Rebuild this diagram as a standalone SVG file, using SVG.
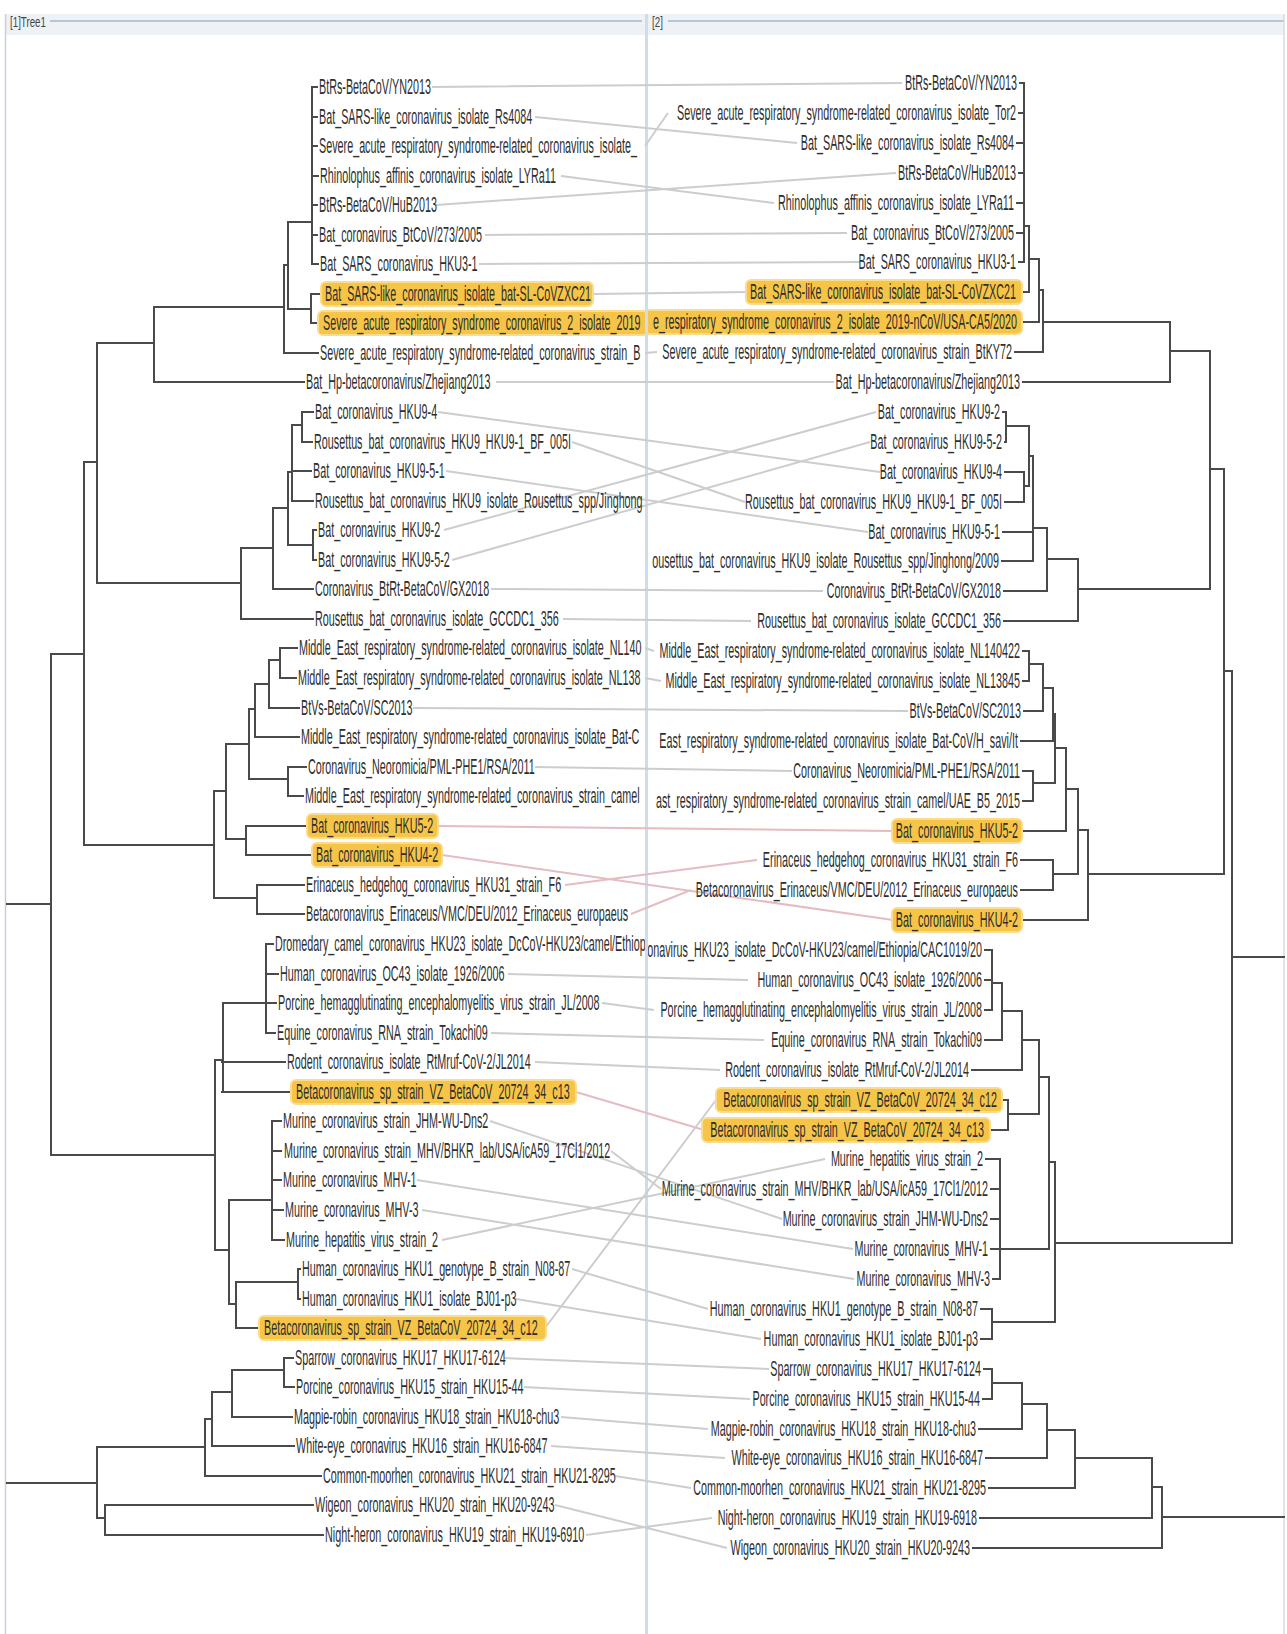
<svg xmlns="http://www.w3.org/2000/svg" width="1287" height="1634" viewBox="0 0 1287 1634">
<defs>
<style>
.t{font-family:"Liberation Sans",Arial,sans-serif;font-size:22px;fill:#2f2f2f}
.e{text-anchor:end}
.hd{font-family:"Liberation Sans",Arial,sans-serif;font-size:15px;fill:#444}
.tree{fill:none;stroke:#4a4a4a;stroke-width:2;stroke-linecap:square}
.lk{fill:none;stroke:#cdcdcd;stroke-width:2}
.pk{fill:none;stroke:#e4bcc2;stroke-width:2}
.hl{fill:#f6c548;stroke:#fadc90;stroke-width:2}
</style>
<clipPath id="cl"><rect x="6" y="34" width="639" height="1600"/></clipPath>
<clipPath id="cr"><rect x="648" y="34" width="636" height="1600"/></clipPath>
</defs>
<rect x="0" y="0" width="1287" height="1634" fill="#ffffff"/>
<g id="frame">
<rect x="5" y="14" width="1279" height="21" fill="#eef2f6"/>
<line x1="50" y1="21" x2="642" y2="21" stroke="#b7c6d5" stroke-width="2"/>
<line x1="668" y1="21" x2="1284" y2="21" stroke="#b7c6d5" stroke-width="2"/>
<line x1="5.5" y1="14" x2="5.5" y2="1634" stroke="#c6d0da" stroke-width="1.5"/>
<line x1="1284" y1="14" x2="1284" y2="1634" stroke="#d3dbe3" stroke-width="1.5"/>
<rect x="645" y="14" width="3" height="1620" fill="#cfdcea"/>
<text class="hd" transform="translate(10,27) scale(0.65,1)">[1]Tree1</text>
<text class="hd" transform="translate(652,27) scale(0.65,1)">[2]</text>
</g>
<g id="connectors">
<g id="links">
<path class="lk" d="M432 87L902 83M535 117L797 143M645 146L668 113M561 176L774 203M436 205L896 173M485 235L847 233M479 264L860 262M594 294L747 292M645 353L657 352M496 382L834 382"/>
<path class="lk" d="M438 412L880 472M572 442L745 502M446 471L868 532M444 530L876 412M452 560L870 442M491 589L823 591M563 619L751 621M645 648L654 651M645 678L661 681M413 708L908 711M535 767L792 771"/>
<path class="pk" d="M438 826L893 831M442 855L893 920M565 885L757 860M631 914L691 890M576 1092L704 1130"/>
<path class="lk" d="M508 974L748 980M602 1003L654 1010M491 1033L764 1040M535 1062L720 1070M490 1121L782 1219M611 1151L661 1189M417 1180L853 1249M422 1210L854 1279M442 1240L825 1159M572 1269L708 1309M516 1299L761 1339M545 1328L716 1100"/>
<path class="lk" d="M504 1358L769 1369M524 1387L750 1399M561 1417L708 1429M551 1446L725 1458M615 1476L691 1488M555 1505L727 1548M586 1535L712 1518"/>
</g>
<g id="tree-left">
<path class="tree" d="M312 87V264M312 87H317M312 117H317M312 146H317M312 176H318M312 205H317M312 235H317M312 264H318M288 222H312M311 294V323M311 294H319M311 323H317M288 309H311M288 222V309M284 265H288M284 265V353M284 353H318M154 307H284M154 307V382M154 382H304M97 343H154"/>
<path class="tree" d="M302 412V442M302 412H313M302 442H312M292 425H302M292 425V501M292 471H311M292 501H313M288 472H292M313 530V560M313 530H316M313 560H316M288 545H313M288 472V545M273 508H288M273 508V589M273 589H313M241 548H273M241 548V619M241 619H313M97 583H241M97 343V583M84 462H97"/>
<path class="tree" d="M280 648V678M280 648H297M280 678H296M269 660H280M269 660V708M269 708H299M255 684H269M255 684V737M255 737H299M249 709H255M288 767V796M288 767H306M288 796H303M249 779H288M249 709V779M226 744H249M246 826V855M246 826H306M246 855H311M226 839H246M226 744V839M214 791H226M257 885V914M257 885H304M257 914H304M214 898H257M214 791V898M84 845H214M84 462V845M51 654H84"/>
<path class="tree" d="M266 944V1033M266 944H273M266 974H278M266 1003H276M266 1033H275M223 1003H266M223 1003V1092M222 1062H285M222 1092H290M215 1060H223M272 1121V1240M272 1121H281M272 1151H281M272 1180H281M272 1210H283M272 1240H284M229 1200H272M298 1269V1299M298 1269H300M298 1299H300M236 1282H298M236 1282V1328M236 1328H258M229 1304H236M229 1200V1304M215 1250H229M215 1060V1250M51 1155H215M51 654V1155M7 904H51"/>
<path class="tree" d="M284 1358V1387M284 1358H293M284 1387H294M232 1370H284M232 1370V1417M232 1417H292M212 1392H232M212 1392V1446M212 1446H294M205 1419H212M205 1419V1476M205 1476H321M97 1447H205M105 1505V1535M105 1505H313M105 1535H323M97 1518H105M97 1447V1518M7 1483H97"/>
</g>
<g id="tree-right">
<path class="tree" d="M1024 83V262M1020 83H1024M1019 113H1024M1017 143H1024M1019 173H1024M1017 203H1024M1017 233H1024M1019 262H1024M1024 226H1029M1021 292H1029M1029 226V292M1029 259H1039M1021 322H1039M1039 259V322M1039 290H1043M1015 352H1043M1043 290V352M1043 322H1170M1023 382H1170M1170 322V382M1170 351H1210"/>
<path class="tree" d="M1003 412H1006M1005 442H1006M1006 412V442M1006 426H1029M1005 472H1024M1005 502H1024M1024 472V502M1024 486H1029M1029 426V486M1029 456H1033M1003 532H1033M1002 561H1033M1033 456V561M1033 528H1047M1004 591H1047M1047 528V591M1047 559H1078M1004 621H1078M1078 559V621M1078 589H1210M1210 351V589M1210 469H1224"/>
<path class="tree" d="M1023 651H1029M1023 681H1029M1029 651V681M1029 664H1043M1024 711H1043M1043 664V711M1043 688H1053M1021 741H1053M1053 688V741M1053 714H1055M1023 771H1033M1023 801H1033M1033 771V801M1033 783H1055M1055 714V783M1055 748H1066M1022 831H1066M1066 748V831M1066 789H1078M1021 860H1053M1021 890H1053M1053 860V890M1053 874H1078M1078 789V874M1078 830H1088M1022 920H1088M1088 830V920M1088 874H1224M1224 469V874M1224 671H1232"/>
<path class="tree" d="M985 950H992M985 980H992M985 1010H992M992 950V1010M992 983H1002M985 1040H1002M1002 983V1040M1002 1011H1022M972 1070H1022M1022 1011V1070M1022 1040H1039M1001 1100H1008M990 1130H1008M1008 1100V1130M1008 1114H1039M1039 1040V1114M1039 1077H1049M986 1159H1000M991 1189H1000M991 1219H1000M991 1249H1000M993 1279H1000M1000 1159V1279M1000 1249H1049M1049 1077V1249M1049 1162H1055M981 1309H992M981 1339H992M992 1309V1339M992 1322H1055M1055 1162V1322M1055 1243H1232M1232 671V1243M1232 957H1284"/>
<path class="tree" d="M984 1369H992M983 1399H992M992 1369V1399M992 1383H1022M979 1429H1022M1022 1383V1429M1022 1404H1047M986 1458H1047M1047 1404V1458M1047 1430H1075M989 1488H1075M1075 1430V1488M1075 1458H1152M980 1518H1152M1152 1458V1518M1152 1487H1162M973 1548H1162M1162 1487V1548M1162 1517H1284"/>
</g>
</g>
<g id="tree1-leaves" clip-path="url(#cl)">
<g id="L01"><text class="t" transform="translate(319,94) scale(0.49,1)">BtRs-BetaCoV/YN2013</text></g>
<g id="L02"><text class="t" transform="translate(319,124) scale(0.49,1)">Bat_SARS-like_coronavirus_isolate_Rs4084</text></g>
<g id="L03"><text class="t" transform="translate(319,153) scale(0.49,1)">Severe_acute_respiratory_syndrome-related_coronavirus_isolate_</text></g>
<g id="L04"><text class="t" transform="translate(320,183) scale(0.49,1)">Rhinolophus_affinis_coronavirus_isolate_LYRa11</text></g>
<g id="L05"><text class="t" transform="translate(319,212) scale(0.49,1)">BtRs-BetaCoV/HuB2013</text></g>
<g id="L06"><text class="t" transform="translate(319,242) scale(0.49,1)">Bat_coronavirus_BtCoV/273/2005</text></g>
<g id="L07"><text class="t" transform="translate(320,271) scale(0.49,1)">Bat_SARS_coronavirus_HKU3-1</text></g>
<g id="L08"><rect class="hl" x="321" y="282" width="272" height="24" rx="5"/><text class="t" transform="translate(325,301) scale(0.49,1)">Bat_SARS-like_coronavirus_isolate_bat-SL-CoVZXC21</text></g>
<g id="L09"><rect class="hl" x="318" y="311" width="330" height="24" rx="5"/><text class="t" transform="translate(323,330) scale(0.49,1)">Severe_acute_respiratory_syndrome_coronavirus_2_isolate_2019</text></g>
<g id="L10"><text class="t" transform="translate(320,360) scale(0.49,1)">Severe_acute_respiratory_syndrome-related_coronavirus_strain_B</text></g>
<g id="L11"><text class="t" transform="translate(306,389) scale(0.49,1)">Bat_Hp-betacoronavirus/Zhejiang2013</text></g>
<g id="L12"><text class="t" transform="translate(315,419) scale(0.49,1)">Bat_coronavirus_HKU9-4</text></g>
<g id="L13"><text class="t" transform="translate(314,449) scale(0.49,1)">Rousettus_bat_coronavirus_HKU9_HKU9-1_BF_005I</text></g>
<g id="L14"><text class="t" transform="translate(313,478) scale(0.49,1)">Bat_coronavirus_HKU9-5-1</text></g>
<g id="L15"><text class="t" transform="translate(315,508) scale(0.49,1)">Rousettus_bat_coronavirus_HKU9_isolate_Rousettus_spp/Jinghong</text></g>
<g id="L16"><text class="t" transform="translate(318,537) scale(0.49,1)">Bat_coronavirus_HKU9-2</text></g>
<g id="L17"><text class="t" transform="translate(318,567) scale(0.49,1)">Bat_coronavirus_HKU9-5-2</text></g>
<g id="L18"><text class="t" transform="translate(315,596) scale(0.49,1)">Coronavirus_BtRt-BetaCoV/GX2018</text></g>
<g id="L19"><text class="t" transform="translate(315,626) scale(0.49,1)">Rousettus_bat_coronavirus_isolate_GCCDC1_356</text></g>
<g id="L20"><text class="t" transform="translate(299,655) scale(0.49,1)">Middle_East_respiratory_syndrome-related_coronavirus_isolate_NL140</text></g>
<g id="L21"><text class="t" transform="translate(298,685) scale(0.49,1)">Middle_East_respiratory_syndrome-related_coronavirus_isolate_NL138</text></g>
<g id="L22"><text class="t" transform="translate(301,715) scale(0.49,1)">BtVs-BetaCoV/SC2013</text></g>
<g id="L23"><text class="t" transform="translate(301,744) scale(0.49,1)">Middle_East_respiratory_syndrome-related_coronavirus_isolate_Bat-C</text></g>
<g id="L24"><text class="t" transform="translate(308,774) scale(0.49,1)">Coronavirus_Neoromicia/PML-PHE1/RSA/2011</text></g>
<g id="L25"><text class="t" transform="translate(305,803) scale(0.49,1)">Middle_East_respiratory_syndrome-related_coronavirus_strain_camel</text></g>
<g id="L26"><rect class="hl" x="307" y="814" width="131" height="24" rx="5"/><text class="t" transform="translate(311,833) scale(0.49,1)">Bat_coronavirus_HKU5-2</text></g>
<g id="L27"><rect class="hl" x="312" y="843" width="130" height="24" rx="5"/><text class="t" transform="translate(316,862) scale(0.49,1)">Bat_coronavirus_HKU4-2</text></g>
<g id="L28"><text class="t" transform="translate(306,892) scale(0.49,1)">Erinaceus_hedgehog_coronavirus_HKU31_strain_F6</text></g>
<g id="L29"><text class="t" transform="translate(306,921) scale(0.49,1)">Betacoronavirus_Erinaceus/VMC/DEU/2012_Erinaceus_europaeus</text></g>
<g id="L30"><text class="t" transform="translate(275,951) scale(0.49,1)">Dromedary_camel_coronavirus_HKU23_isolate_DcCoV-HKU23/camel/Ethiop</text></g>
<g id="L31"><text class="t" transform="translate(280,981) scale(0.49,1)">Human_coronavirus_OC43_isolate_1926/2006</text></g>
<g id="L32"><text class="t" transform="translate(278,1010) scale(0.49,1)">Porcine_hemagglutinating_encephalomyelitis_virus_strain_JL/2008</text></g>
<g id="L33"><text class="t" transform="translate(277,1040) scale(0.49,1)">Equine_coronavirus_RNA_strain_Tokachi09</text></g>
<g id="L34"><text class="t" transform="translate(287,1069) scale(0.49,1)">Rodent_coronavirus_isolate_RtMruf-CoV-2/JL2014</text></g>
<g id="L35"><rect class="hl" x="291" y="1080" width="285" height="24" rx="5"/><text class="t" transform="translate(296,1099) scale(0.49,1)">Betacoronavirus_sp_strain_VZ_BetaCoV_20724_34_c13</text></g>
<g id="L36"><text class="t" transform="translate(283,1128) scale(0.49,1)">Murine_coronavirus_strain_JHM-WU-Dns2</text></g>
<g id="L37"><text class="t" transform="translate(284,1158) scale(0.49,1)">Murine_coronavirus_strain_MHV/BHKR_lab/USA/icA59_17Cl1/2012</text></g>
<g id="L38"><text class="t" transform="translate(283,1187) scale(0.49,1)">Murine_coronavirus_MHV-1</text></g>
<g id="L39"><text class="t" transform="translate(285,1217) scale(0.49,1)">Murine_coronavirus_MHV-3</text></g>
<g id="L40"><text class="t" transform="translate(286,1247) scale(0.49,1)">Murine_hepatitis_virus_strain_2</text></g>
<g id="L41"><text class="t" transform="translate(302,1276) scale(0.49,1)">Human_coronavirus_HKU1_genotype_B_strain_N08-87</text></g>
<g id="L42"><text class="t" transform="translate(302,1306) scale(0.49,1)">Human_coronavirus_HKU1_isolate_BJ01-p3</text></g>
<g id="L43"><rect class="hl" x="259" y="1316" width="287" height="24" rx="5"/><text class="t" transform="translate(264,1335) scale(0.49,1)">Betacoronavirus_sp_strain_VZ_BetaCoV_20724_34_c12</text></g>
<g id="L44"><text class="t" transform="translate(295,1365) scale(0.49,1)">Sparrow_coronavirus_HKU17_HKU17-6124</text></g>
<g id="L45"><text class="t" transform="translate(296,1394) scale(0.49,1)">Porcine_coronavirus_HKU15_strain_HKU15-44</text></g>
<g id="L46"><text class="t" transform="translate(294,1424) scale(0.49,1)">Magpie-robin_coronavirus_HKU18_strain_HKU18-chu3</text></g>
<g id="L47"><text class="t" transform="translate(296,1453) scale(0.49,1)">White-eye_coronavirus_HKU16_strain_HKU16-6847</text></g>
<g id="L48"><text class="t" transform="translate(323,1483) scale(0.49,1)">Common-moorhen_coronavirus_HKU21_strain_HKU21-8295</text></g>
<g id="L49"><text class="t" transform="translate(315,1512) scale(0.49,1)">Wigeon_coronavirus_HKU20_strain_HKU20-9243</text></g>
<g id="L50"><text class="t" transform="translate(325,1542) scale(0.49,1)">Night-heron_coronavirus_HKU19_strain_HKU19-6910</text></g>
</g>
<g id="tree2-leaves" clip-path="url(#cr)">
<g id="R01"><text class="t e" transform="translate(1017,90) scale(0.49,1)">BtRs-BetaCoV/YN2013</text></g>
<g id="R02"><text class="t e" transform="translate(1016,120) scale(0.49,1)">Severe_acute_respiratory_syndrome-related_coronavirus_isolate_Tor2</text></g>
<g id="R03"><text class="t e" transform="translate(1014,150) scale(0.49,1)">Bat_SARS-like_coronavirus_isolate_Rs4084</text></g>
<g id="R04"><text class="t e" transform="translate(1016,180) scale(0.49,1)">BtRs-BetaCoV/HuB2013</text></g>
<g id="R05"><text class="t e" transform="translate(1014,210) scale(0.49,1)">Rhinolophus_affinis_coronavirus_isolate_LYRa11</text></g>
<g id="R06"><text class="t e" transform="translate(1014,240) scale(0.49,1)">Bat_coronavirus_BtCoV/273/2005</text></g>
<g id="R07"><text class="t e" transform="translate(1016,269) scale(0.49,1)">Bat_SARS_coronavirus_HKU3-1</text></g>
<g id="R08"><rect class="hl" x="746" y="280" width="276" height="24" rx="5"/><text class="t e" transform="translate(1016,299) scale(0.49,1)">Bat_SARS-like_coronavirus_isolate_bat-SL-CoVZXC21</text></g>
<g id="R09"><rect class="hl" x="645" y="310" width="377" height="24" rx="5"/><text class="t e" transform="translate(1017,329) scale(0.49,1)">e_respiratory_syndrome_coronavirus_2_isolate_2019-nCoV/USA-CA5/2020</text></g>
<g id="R10"><text class="t e" transform="translate(1012,359) scale(0.49,1)">Severe_acute_respiratory_syndrome-related_coronavirus_strain_BtKY72</text></g>
<g id="R11"><text class="t e" transform="translate(1020,389) scale(0.49,1)">Bat_Hp-betacoronavirus/Zhejiang2013</text></g>
<g id="R12"><text class="t e" transform="translate(1000,419) scale(0.49,1)">Bat_coronavirus_HKU9-2</text></g>
<g id="R13"><text class="t e" transform="translate(1002,449) scale(0.49,1)">Bat_coronavirus_HKU9-5-2</text></g>
<g id="R14"><text class="t e" transform="translate(1002,479) scale(0.49,1)">Bat_coronavirus_HKU9-4</text></g>
<g id="R15"><text class="t e" transform="translate(1002,509) scale(0.49,1)">Rousettus_bat_coronavirus_HKU9_HKU9-1_BF_005I</text></g>
<g id="R16"><text class="t e" transform="translate(1000,539) scale(0.49,1)">Bat_coronavirus_HKU9-5-1</text></g>
<g id="R17"><text class="t e" transform="translate(999,568) scale(0.49,1)">ousettus_bat_coronavirus_HKU9_isolate_Rousettus_spp/Jinghong/2009</text></g>
<g id="R18"><text class="t e" transform="translate(1001,598) scale(0.49,1)">Coronavirus_BtRt-BetaCoV/GX2018</text></g>
<g id="R19"><text class="t e" transform="translate(1001,628) scale(0.49,1)">Rousettus_bat_coronavirus_isolate_GCCDC1_356</text></g>
<g id="R20"><text class="t e" transform="translate(1020,658) scale(0.49,1)">Middle_East_respiratory_syndrome-related_coronavirus_isolate_NL140422</text></g>
<g id="R21"><text class="t e" transform="translate(1020,688) scale(0.49,1)">Middle_East_respiratory_syndrome-related_coronavirus_isolate_NL13845</text></g>
<g id="R22"><text class="t e" transform="translate(1021,718) scale(0.49,1)">BtVs-BetaCoV/SC2013</text></g>
<g id="R23"><text class="t e" transform="translate(1018,748) scale(0.49,1)">East_respiratory_syndrome-related_coronavirus_isolate_Bat-CoV/H_savi/It</text></g>
<g id="R24"><text class="t e" transform="translate(1020,778) scale(0.49,1)">Coronavirus_Neoromicia/PML-PHE1/RSA/2011</text></g>
<g id="R25"><text class="t e" transform="translate(1020,808) scale(0.49,1)">ast_respiratory_syndrome-related_coronavirus_strain_camel/UAE_B5_2015</text></g>
<g id="R26"><rect class="hl" x="892" y="819" width="130" height="24" rx="5"/><text class="t e" transform="translate(1018,838) scale(0.49,1)">Bat_coronavirus_HKU5-2</text></g>
<g id="R27"><text class="t e" transform="translate(1018,867) scale(0.49,1)">Erinaceus_hedgehog_coronavirus_HKU31_strain_F6</text></g>
<g id="R28"><text class="t e" transform="translate(1018,897) scale(0.49,1)">Betacoronavirus_Erinaceus/VMC/DEU/2012_Erinaceus_europaeus</text></g>
<g id="R29"><rect class="hl" x="892" y="908" width="130" height="24" rx="5"/><text class="t e" transform="translate(1018,927) scale(0.49,1)">Bat_coronavirus_HKU4-2</text></g>
<g id="R30"><text class="t e" transform="translate(982,957) scale(0.49,1)">onavirus_HKU23_isolate_DcCoV-HKU23/camel/Ethiopia/CAC1019/20</text></g>
<g id="R31"><text class="t e" transform="translate(982,987) scale(0.49,1)">Human_coronavirus_OC43_isolate_1926/2006</text></g>
<g id="R32"><text class="t e" transform="translate(982,1017) scale(0.49,1)">Porcine_hemagglutinating_encephalomyelitis_virus_strain_JL/2008</text></g>
<g id="R33"><text class="t e" transform="translate(982,1047) scale(0.49,1)">Equine_coronavirus_RNA_strain_Tokachi09</text></g>
<g id="R34"><text class="t e" transform="translate(969,1077) scale(0.49,1)">Rodent_coronavirus_isolate_RtMruf-CoV-2/JL2014</text></g>
<g id="R35"><rect class="hl" x="716" y="1088" width="286" height="24" rx="5"/><text class="t e" transform="translate(997,1107) scale(0.49,1)">Betacoronavirus_sp_strain_VZ_BetaCoV_20724_34_c12</text></g>
<g id="R36"><rect class="hl" x="702" y="1118" width="288" height="24" rx="5"/><text class="t e" transform="translate(984,1137) scale(0.49,1)">Betacoronavirus_sp_strain_VZ_BetaCoV_20724_34_c13</text></g>
<g id="R37"><text class="t e" transform="translate(983,1166) scale(0.49,1)">Murine_hepatitis_virus_strain_2</text></g>
<g id="R38"><text class="t e" transform="translate(988,1196) scale(0.49,1)">Murine_coronavirus_strain_MHV/BHKR_lab/USA/icA59_17Cl1/2012</text></g>
<g id="R39"><text class="t e" transform="translate(988,1226) scale(0.49,1)">Murine_coronavirus_strain_JHM-WU-Dns2</text></g>
<g id="R40"><text class="t e" transform="translate(988,1256) scale(0.49,1)">Murine_coronavirus_MHV-1</text></g>
<g id="R41"><text class="t e" transform="translate(990,1286) scale(0.49,1)">Murine_coronavirus_MHV-3</text></g>
<g id="R42"><text class="t e" transform="translate(978,1316) scale(0.49,1)">Human_coronavirus_HKU1_genotype_B_strain_N08-87</text></g>
<g id="R43"><text class="t e" transform="translate(978,1346) scale(0.49,1)">Human_coronavirus_HKU1_isolate_BJ01-p3</text></g>
<g id="R44"><text class="t e" transform="translate(981,1376) scale(0.49,1)">Sparrow_coronavirus_HKU17_HKU17-6124</text></g>
<g id="R45"><text class="t e" transform="translate(980,1406) scale(0.49,1)">Porcine_coronavirus_HKU15_strain_HKU15-44</text></g>
<g id="R46"><text class="t e" transform="translate(976,1436) scale(0.49,1)">Magpie-robin_coronavirus_HKU18_strain_HKU18-chu3</text></g>
<g id="R47"><text class="t e" transform="translate(983,1465) scale(0.49,1)">White-eye_coronavirus_HKU16_strain_HKU16-6847</text></g>
<g id="R48"><text class="t e" transform="translate(986,1495) scale(0.49,1)">Common-moorhen_coronavirus_HKU21_strain_HKU21-8295</text></g>
<g id="R49"><text class="t e" transform="translate(977,1525) scale(0.49,1)">Night-heron_coronavirus_HKU19_strain_HKU19-6918</text></g>
<g id="R50"><text class="t e" transform="translate(970,1555) scale(0.49,1)">Wigeon_coronavirus_HKU20_strain_HKU20-9243</text></g>
</g>
</svg>
